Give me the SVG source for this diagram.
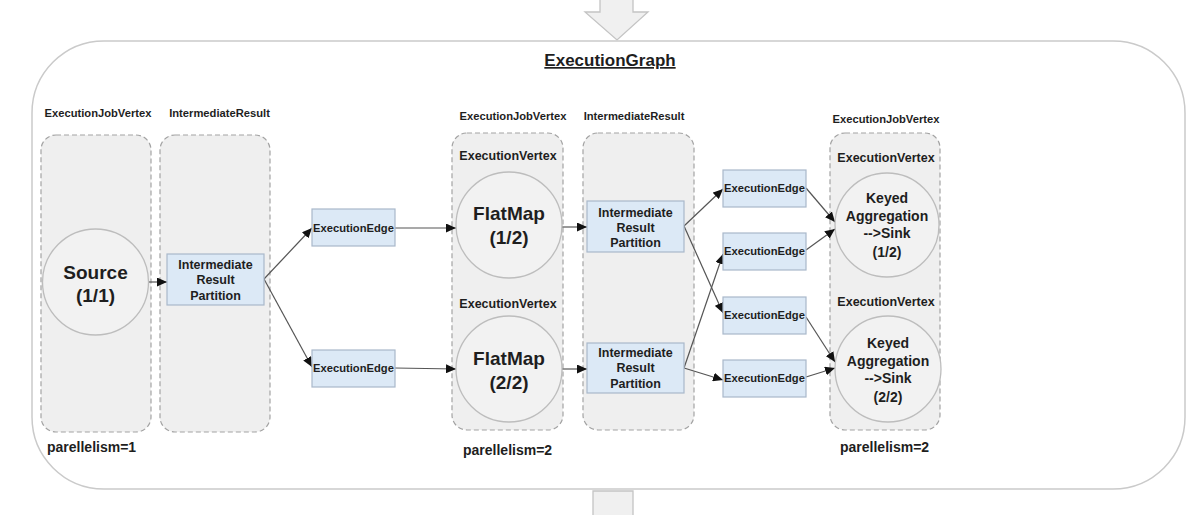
<svg xmlns="http://www.w3.org/2000/svg" width="1194" height="515" viewBox="0 0 1194 515">
<defs>
<marker id="ah" markerUnits="userSpaceOnUse" markerWidth="11" markerHeight="9" refX="10" refY="4.5" orient="auto">
<path d="M0,0 L10,4.5 L0,9 z" fill="#111"/>
</marker>
<style>
text{font-family:"Liberation Sans",Arial,sans-serif;font-weight:bold;fill:#1e1e1e;text-anchor:middle}
.lbl{font-size:11.2px}
.ev{font-size:12.5px}
.big{font-size:19px}
.ka{font-size:14px}
.irp{font-size:12.5px}
.ee{font-size:11.2px}
.par{font-size:14px;text-anchor:start}
.grp{fill:#efefef;stroke:#a3a3a3;stroke-width:1.2;stroke-dasharray:5 3}
.cir{fill:#f2f2f2;stroke:#bdbdbd;stroke-width:1.3}
.box{fill:#dce9f6;stroke:#a9b8ca;stroke-width:1.2}
.con{fill:none;stroke:#555;stroke-width:1.2;marker-end:url(#ah)}
.blk{fill:#f0f0f0;stroke:#c4c4c4;stroke-width:1.3}
</style>
</defs>
<rect width="1194" height="515" fill="#fff"/>
<!-- block arrows -->
<path class="blk" d="M600,-2 L633,-2 L633,12 L648,12 L617,40 L585,12 L600,12 Z"/>
<path class="blk" d="M593,491 L633,491 L633,517 L593,517 Z"/>
<!-- outer container -->
<g id="executionGraph">
<rect x="32" y="41" width="1153" height="448" rx="72" ry="72" fill="#fff" stroke="#cacaca" stroke-width="1.5"/>
<text x="610" y="66" style="font-size:17px;text-decoration:underline">ExecutionGraph</text>
</g>
<!-- groups -->
<g id="jobVertex1">
<text class="lbl" x="98" y="117">ExecutionJobVertex</text>
<rect class="grp" x="41" y="135" width="110" height="297" rx="15"/>
<text class="par" x="47" y="452">parellelism=1</text>
</g>
<g id="intermediateResult1">
<text class="lbl" x="219.5" y="117">IntermediateResult</text>
<rect class="grp" x="160" y="135" width="110" height="297" rx="15"/>
</g>
<g id="jobVertex2">
<text class="lbl" x="513" y="120">ExecutionJobVertex</text>
<rect class="grp" x="452" y="133" width="111" height="297" rx="15"/>
<text class="ev" x="508" y="160">ExecutionVertex</text>
<text class="ev" x="508" y="308">ExecutionVertex</text>
<text class="par" x="463" y="455">parellelism=2</text>
</g>
<g id="intermediateResult2">
<text class="lbl" x="634" y="120">IntermediateResult</text>
<rect class="grp" x="583" y="133" width="111" height="297" rx="15"/>
</g>
<g id="jobVertex3">
<text class="lbl" x="886" y="123">ExecutionJobVertex</text>
<rect class="grp" x="830" y="133" width="110" height="297" rx="15"/>
<text class="ev" x="886" y="162">ExecutionVertex</text>
<text class="ev" x="886" y="306">ExecutionVertex</text>
<text class="par" x="840" y="452">parellelism=2</text>
</g>
<!-- connectors -->
<g id="connectors">
<line class="con" x1="146" y1="282" x2="167" y2="282"/>
<line class="con" x1="264" y1="279" x2="312" y2="228"/>
<line class="con" x1="264" y1="279" x2="312" y2="367"/>
<line class="con" x1="395" y1="228" x2="456" y2="228"/>
<line class="con" x1="395" y1="368" x2="456" y2="369"/>
<line class="con" x1="562" y1="227" x2="587" y2="227"/>
<line class="con" x1="562" y1="369" x2="587" y2="369"/>
<line class="con" x1="684" y1="226" x2="723" y2="189"/>
<line class="con" x1="684" y1="226" x2="723" y2="313"/>
<line class="con" x1="684" y1="368" x2="723" y2="254"/>
<line class="con" x1="684" y1="368" x2="723" y2="380"/>
<line class="con" x1="806" y1="188" x2="835" y2="222"/>
<line class="con" x1="806" y1="250" x2="835" y2="229"/>
<line class="con" x1="806" y1="317" x2="835" y2="362"/>
<line class="con" x1="806" y1="377" x2="835" y2="368"/>
</g>
<!-- nodes -->
<g id="source">
<circle class="cir" cx="95.5" cy="282" r="53"/>
<text class="big" x="95.5" y="279">Source</text>
<text class="big" x="95.5" y="302">(1/1)</text>
</g>
<g id="irp1">
<rect class="box" x="167" y="254" width="97" height="51"/>
<text class="irp" x="215.5" y="268.5">Intermediate</text>
<text class="irp" x="215.5" y="284">Result</text>
<text class="irp" x="215.5" y="299.5">Partition</text>
</g>
<g id="edge1a">
<rect class="box" x="312" y="209" width="83" height="37"/>
<text class="ee" x="353.5" y="231.5">ExecutionEdge</text>
</g>
<g id="edge1b">
<rect class="box" x="312" y="350" width="83" height="37"/>
<text class="ee" x="353.5" y="372">ExecutionEdge</text>
</g>
<g id="flatmap1">
<circle class="cir" cx="509" cy="225" r="53"/>
<text class="big" x="509" y="220">FlatMap</text>
<text class="big" x="509" y="244">(1/2)</text>
</g>
<g id="flatmap2">
<circle class="cir" cx="509" cy="369" r="53"/>
<text class="big" x="509" y="365">FlatMap</text>
<text class="big" x="509" y="389">(2/2)</text>
</g>
<g id="irp2a">
<rect class="box" x="587" y="201" width="97" height="51"/>
<text class="irp" x="635.5" y="216.5">Intermediate</text>
<text class="irp" x="635.5" y="231.5">Result</text>
<text class="irp" x="635.5" y="247">Partition</text>
</g>
<g id="irp2b">
<rect class="box" x="587" y="343" width="97" height="50"/>
<text class="irp" x="635.5" y="356.5">Intermediate</text>
<text class="irp" x="635.5" y="372">Result</text>
<text class="irp" x="635.5" y="387.5">Partition</text>
</g>
<g id="edge2a">
<rect class="box" x="723" y="170" width="83" height="37"/>
<text class="ee" x="764.5" y="192">ExecutionEdge</text>
</g>
<g id="edge2b">
<rect class="box" x="723" y="233" width="83" height="37"/>
<text class="ee" x="764.5" y="255">ExecutionEdge</text>
</g>
<g id="edge2c">
<rect class="box" x="723" y="297" width="83" height="37"/>
<text class="ee" x="764.5" y="318.5">ExecutionEdge</text>
</g>
<g id="edge2d">
<rect class="box" x="723" y="360" width="83" height="37"/>
<text class="ee" x="764.5" y="382">ExecutionEdge</text>
</g>
<g id="keyed1">
<circle class="cir" cx="887" cy="225" r="52"/>
<text class="ka" x="887" y="203">Keyed</text>
<text class="ka" x="887" y="221">Aggregation</text>
<text class="ka" x="887" y="238">--&gt;Sink</text>
<text class="ka" x="887" y="257">(1/2)</text>
</g>
<g id="keyed2">
<circle class="cir" cx="888" cy="369" r="53"/>
<text class="ka" x="888" y="348">Keyed</text>
<text class="ka" x="888" y="366">Aggregation</text>
<text class="ka" x="888" y="383">--&gt;Sink</text>
<text class="ka" x="888" y="402">(2/2)</text>
</g>
</svg>
